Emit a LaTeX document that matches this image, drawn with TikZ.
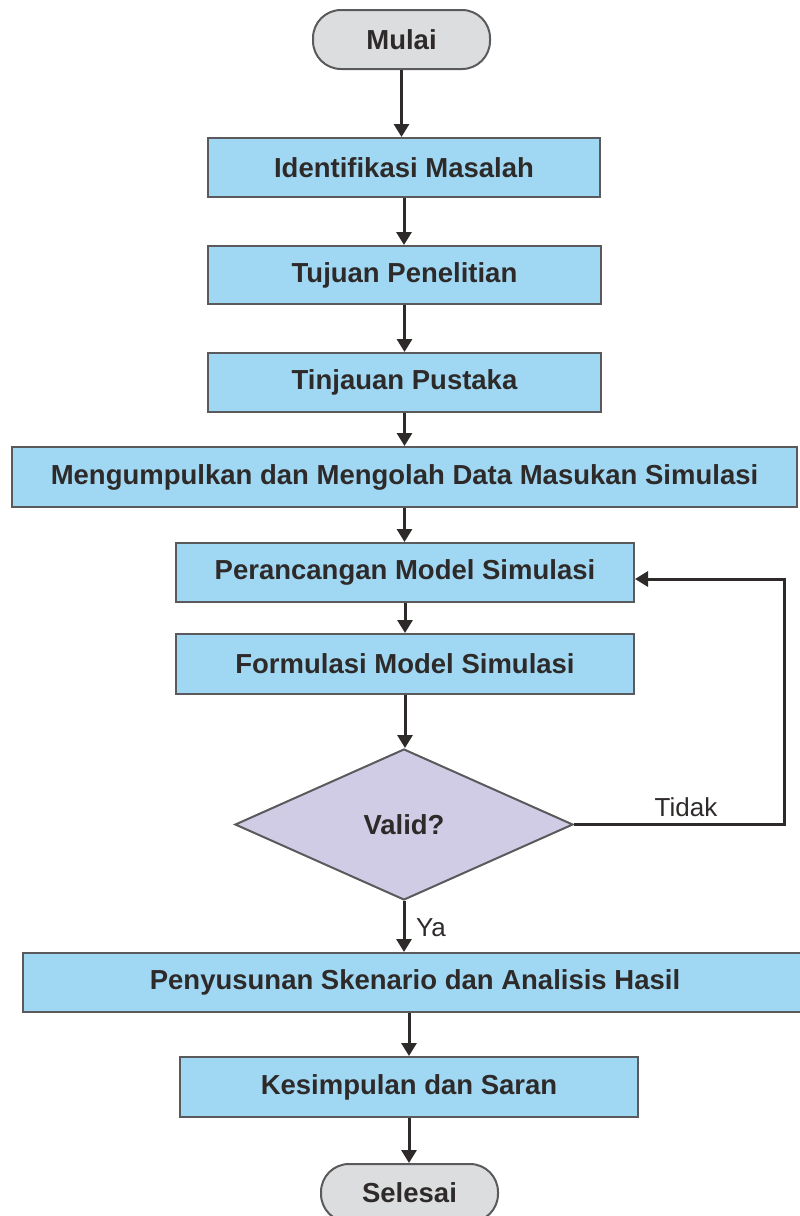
\documentclass[tikz,border=0pt]{standalone}
\usepackage{fontspec}
\setmainfont{Liberation Sans}
\usetikzlibrary{shapes.geometric,arrows.meta}

\definecolor{procfill}{RGB}{160,216,243}
\definecolor{termfill}{RGB}{220,221,222}
\definecolor{decfill}{RGB}{208,204,230}
\definecolor{edgegray}{RGB}{90,90,92}
\definecolor{inkdark}{RGB}{46,42,42}

\tikzset{every picture/.style={line width=0.75pt}}
\tikzset{
  procbox/.style={draw=edgegray, line width=2pt, fill=procfill, rectangle, inner sep=0pt,
    text=inkdark, font=\fontsize{27.5}{31}\selectfont\bfseries},
  termbox/.style={procbox, fill=termfill, rounded corners=28pt},
  decbox/.style={procbox, fill=decfill, diamond, shape aspect=2.24},
  flowarrow/.style={draw=inkdark, line width=3pt, -{Triangle[width=15pt,length=13pt]}},
  flowlabel/.style={inner sep=0pt, text=inkdark, font=\fontsize{26}{30}\selectfont}
}

\begin{document}
\begin{tikzpicture}[x=1pt,y=1pt,yscale=-1,xscale=1]
\useasboundingbox (0,0) rectangle (800,1216);

%Flowchart: Terminator
\node [termbox, minimum width=177pt, minimum height=59pt] (mulai) at (401.5,39.5) {Mulai};
%Flowchart: Process
\node [procbox, minimum width=392pt, minimum height=59pt] (identifikasi) at (404,167.5) {Identifikasi Masalah};
\node [procbox, minimum width=393pt, minimum height=58pt] (tujuan) at (404.5,275) {Tujuan Penelitian};
\node [procbox, minimum width=393pt, minimum height=59pt] (tinjauan) at (404.5,382.5) {Tinjauan Pustaka};
\node [procbox, minimum width=785pt, minimum height=60pt] (pengumpulan) at (404.5,477) {Mengumpulkan dan Mengolah Data Masukan Simulasi};
\node [procbox, minimum width=458pt, minimum height=59pt] (perancangan) at (405,572.5) {Perancangan Model Simulasi};
\node [procbox, minimum width=458pt, minimum height=60pt] (formulasi) at (405,664) {Formulasi Model Simulasi};
%Flowchart: Decision
\node [decbox, minimum width=338pt, minimum height=151pt] (valid) at (404,824.5) {Valid?};
%Flowchart: Process
\node [procbox, minimum width=784pt, minimum height=59pt] (penyusunan) at (415,982.5) {Penyusunan Skenario dan Analisis Hasil};
\node [procbox, minimum width=458pt, minimum height=60pt] (kesimpulan) at (409,1087) {Kesimpulan dan Saran};
%Flowchart: Terminator
\node [termbox, minimum width=177pt, minimum height=58pt] (selesai) at (409.5,1193) {Selesai};

%Straight Lines
\draw [flowarrow] (mulai.south) -- (mulai.south |- identifikasi.north);
\draw [flowarrow] (identifikasi.south) -- (identifikasi.south |- tujuan.north);
\draw [flowarrow] (tujuan.south) -- (tujuan.south |- tinjauan.north);
\draw [flowarrow] (tinjauan.south) -- (tinjauan.south |- pengumpulan.north);
\draw [flowarrow] (pengumpulan.south) -- (pengumpulan.south |- perancangan.north);
\draw [flowarrow] (perancangan.south) -- (perancangan.south |- formulasi.north);
\draw [flowarrow] (formulasi.south) -- (formulasi.south |- valid.north);
\draw [flowarrow] (valid.south) -- (valid.south |- penyusunan.north);
\draw [flowarrow] (kesimpulan.north |- penyusunan.south) -- (kesimpulan.north);
\draw [flowarrow] (kesimpulan.south) -- (kesimpulan.south |- selesai.north);

%Loop back
\coordinate (loopcorner) at (784,579);
\draw [flowarrow] (valid.east) -| (loopcorner) -- (loopcorner -| perancangan.east);

% Text Node
\node [flowlabel] (tidak) at (686,807) {Tidak};
% Text Node
\node [flowlabel] (ya) at (431,928) {Ya};

\end{tikzpicture}
\end{document}
